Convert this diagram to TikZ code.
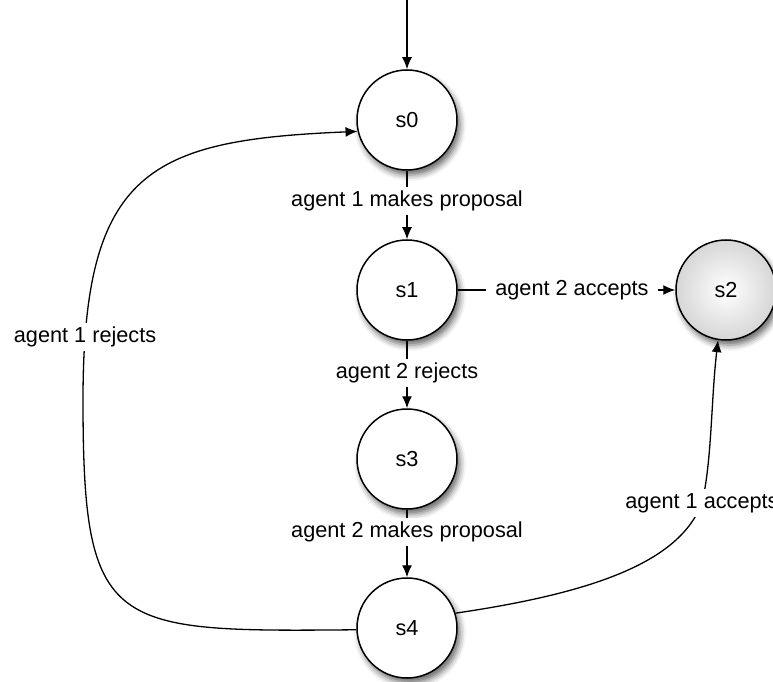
\documentclass[tikz,border=0pt]{standalone}
\usepackage{fontspec}
\setmainfont{Liberation Sans}
\usetikzlibrary{arrows.meta,shadows.blur}

\tikzset{
  state/.style={circle, draw=black, line width=1.5pt, fill=white,
    minimum size=100pt, inner sep=0pt,
    blur shadow={shadow xshift=3pt, shadow yshift=-5pt,
      shadow blur radius=6pt, shadow opacity=60}},
  final/.style={state, shading=radial, inner color=white, outer color=gray!32},
  trans/.style={line width=1.3pt, -{Latex[length=12pt,width=10pt]}},
  lbl/.style={fill=white, inner sep=4pt, text=black}
}

\begin{document}
\begin{tikzpicture}[x=1pt, y=1pt, font=\fontsize{21.7}{26}\selectfont]
  \useasboundingbox (0,0) rectangle (773,681);

  % states
  \node[state] (s0) at (407,561) {s0};
  \node[state] (s1) at (407,391) {s1};
  \node[final] (s2) at (726,391) {s2};
  \node[state] (s3) at (407,222) {s3};
  \node[state] (s4) at (407,53)  {s4};

  % entry arrow
  \coordinate (start) at (407,681);
  \draw[trans] (start) -- (s0.north);

  % main chain
  \draw[trans] (s0.south) -- node[lbl, pos=0.44] {agent 1 makes proposal} (s1.north);
  \draw[trans] (s1.east) -- node[lbl, pos=0.525, inner xsep=9pt] {agent 2 accepts} (s2.west);
  \draw[trans] (s1.south) -- node[lbl, pos=0.48] {agent 2 rejects} (s3.north);
  \draw[trans] (s3.south) -- node[lbl, pos=0.33] {agent 2 makes proposal} (s4.north);

  % agent 1 rejects: back to s0
  \draw[trans] (s4.182) .. controls (110,49) and (83,49) .. (83,281)
    .. controls (83,511) and (150,541) .. (s0.193)
    node[lbl, pos=0.1] {agent 1 rejects};

  % agent 1 accepts: up to s2
  \draw[trans] (s4.17) .. controls (600,89) and (680,121) .. (702,178)
    node[lbl] {agent 1 accepts}
    .. controls (712,221) and (711,281) .. (s2.261);
\end{tikzpicture}
\end{document}
